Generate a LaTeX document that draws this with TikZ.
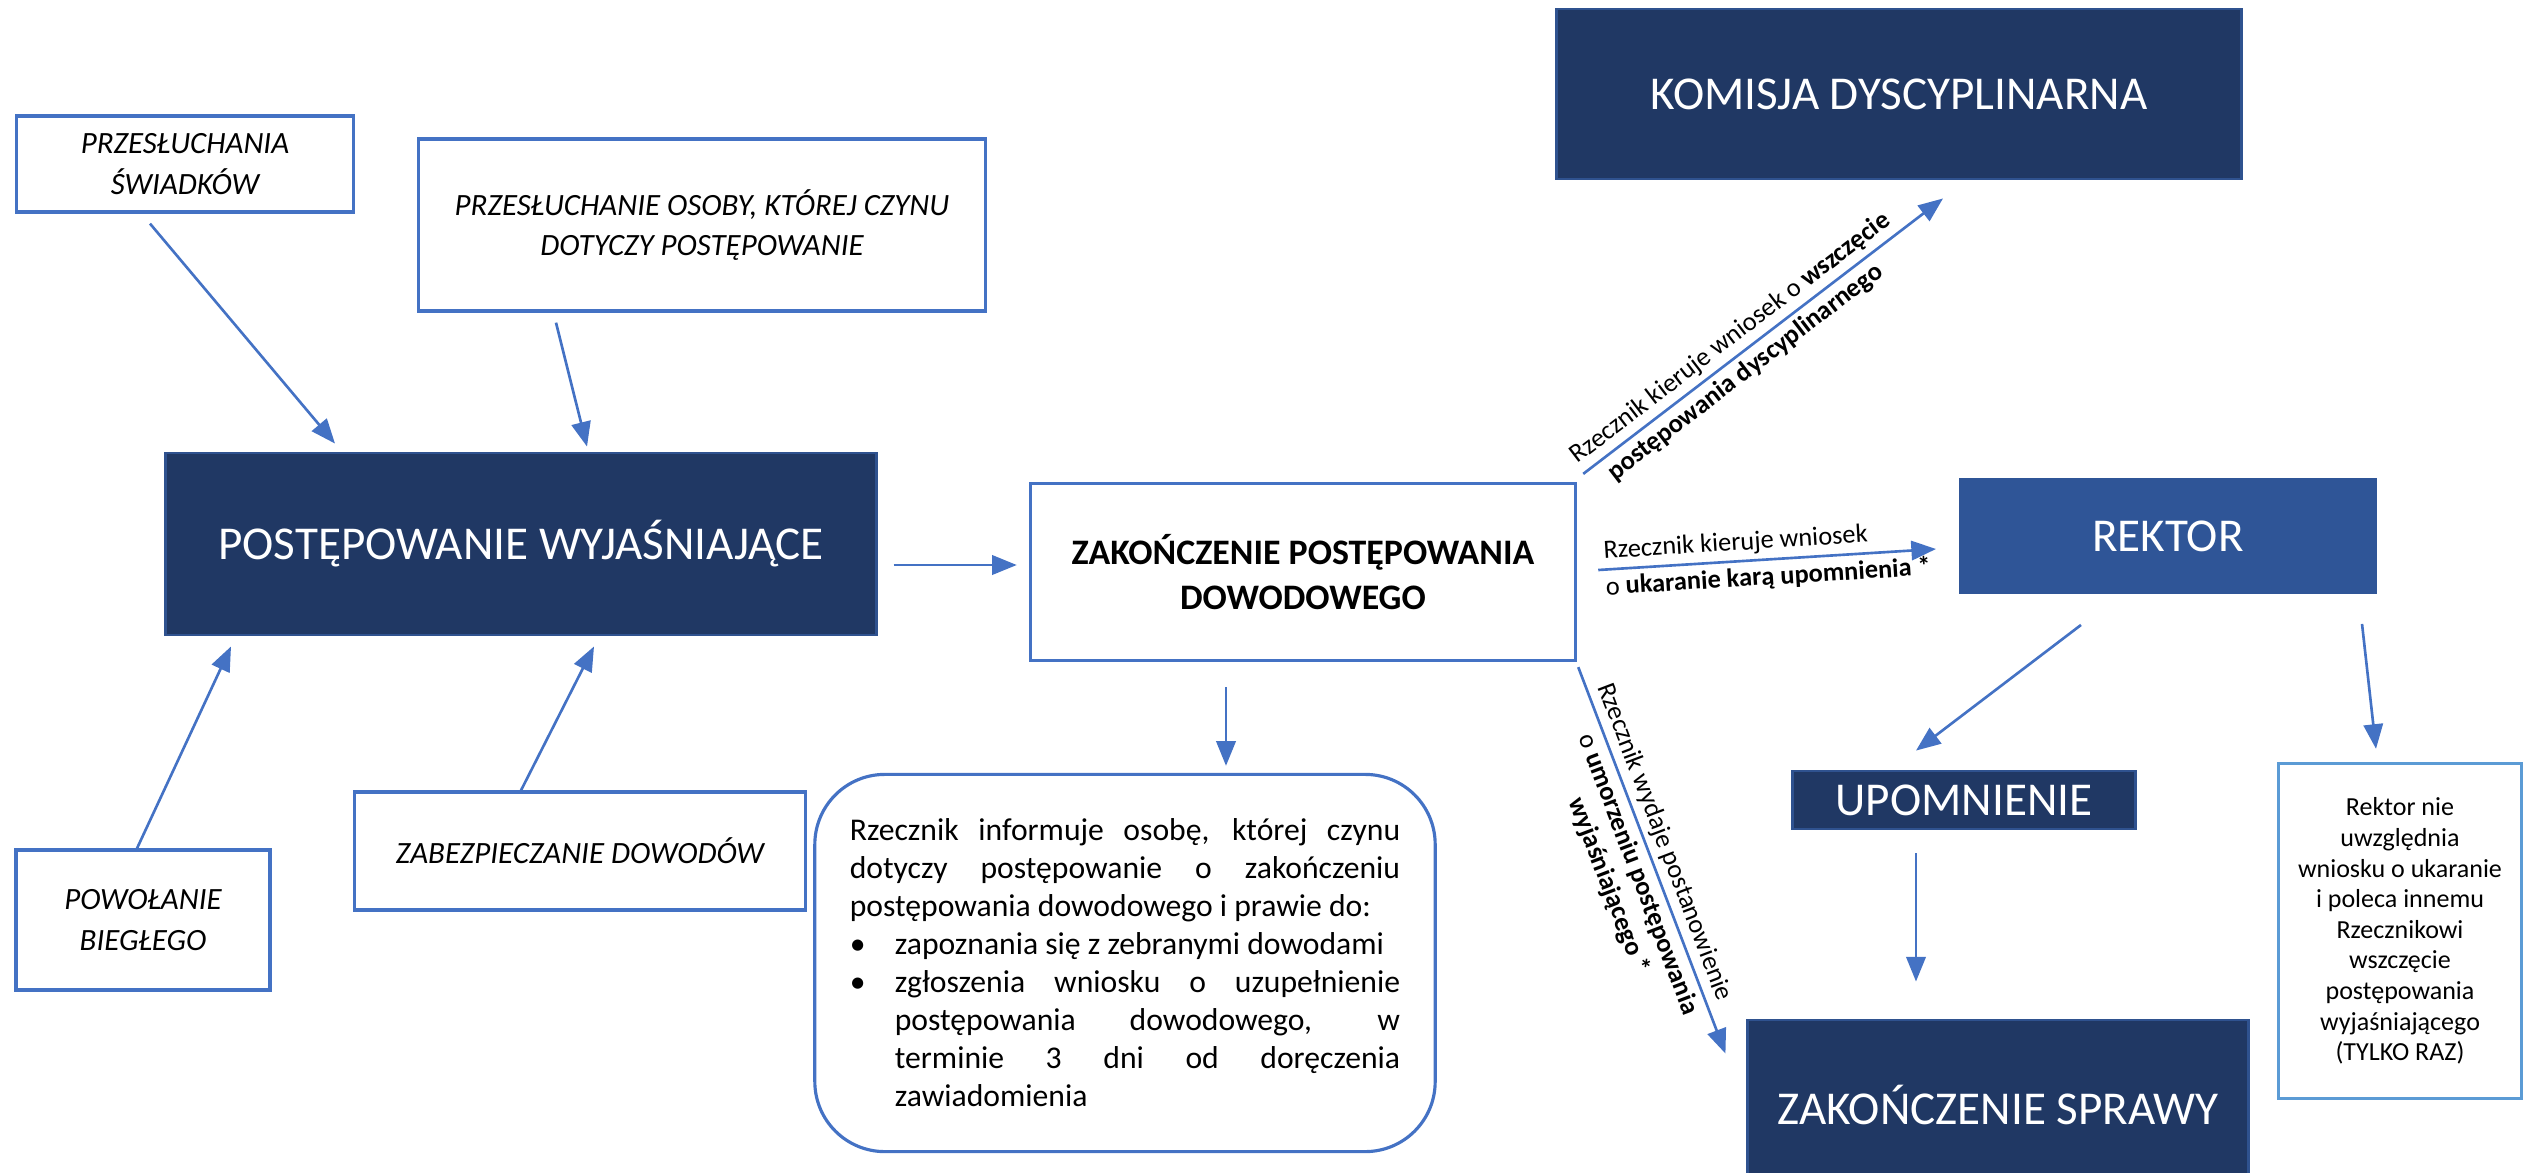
\documentclass[tikz,border=0pt]{standalone}
\usepackage{fontspec}
\setmainfont{Carlito}
\usetikzlibrary{arrows.meta, positioning}

\definecolor{granat}{HTML}{203864}
\definecolor{ramka}{HTML}{2F528F}
\definecolor{niebieski}{HTML}{2F5597}
\definecolor{akcent}{HTML}{4472C4}
\definecolor{jasny}{HTML}{5B9BD5}

\tikzset{
  ciemny/.style={draw=ramka, line width=0.8pt, fill=granat, text=white, inner sep=0pt,
    font=\fontsize{13.4}{16}\selectfont},
  jasnyprost/.style={draw=akcent, line width=0.9pt, align=center, inner sep=0pt},
  kursywa/.style={jasnyprost, font=\fontsize{8.8}{11.5}\selectfont\itshape},
  strz/.style={draw=akcent, line width=0.75pt, -{Triangle[length=7pt,width=5.5pt]}},
  opis/.style={font=\fontsize{7.5}{9}\selectfont, sloped, inner sep=1.5pt},
}

\begin{document}
\begin{tikzpicture}[x=0.01cm, y=-0.01cm]
      \useasboundingbox (0,0) rectangle (2529,1172);

      % czynności wokół postępowania wyjaśniającego
      \node[kursywa, minimum width=3.37cm, minimum height=0.96cm] (swiadkowie) at (185,164) {PRZESŁUCHANIA\\ŚWIADKÓW};
      \node[kursywa, minimum width=5.66cm, minimum height=1.72cm] (osoba) at (702,225) {PRZESŁUCHANIE OSOBY, KTÓREJ CZYNU\\DOTYCZY POSTĘPOWANIE};
      \node[ciemny, minimum width=7.10cm, minimum height=1.82cm] (wyjasn) at (521,544) {POSTĘPOWANIE WYJAŚNIAJĄCE};
      \node[kursywa, minimum width=2.54cm, minimum height=1.40cm] (biegly) at (143,920) {POWOŁANIE\\BIEGŁEGO};
      \node[kursywa, minimum width=4.50cm, minimum height=1.18cm] (dowody) at (580,851) {ZABEZPIECZANIE DOWODÓW};

      \node[jasnyprost, font=\fontsize{10.2}{12.8}\selectfont\bfseries, minimum width=5.45cm, minimum height=1.77cm] (dowodowe) at (1303,572) {ZAKOŃCZENIE POSTĘPOWANIA\\DOWODOWEGO};
      \node[draw=akcent, line width=0.9pt, rounded corners=0.7cm, minimum width=6.2cm, minimum height=3.77cm,
            text width=5.5cm, align=justify, font=\fontsize{9}{10.8}\selectfont] (info) at (1125,963)
        {\noindent Rzecznik informuje osobę, której czynu\linebreak dotyczy postępowanie o zakończeniu\linebreak postępowania dowodowego i prawie do:\par
         \noindent\hangindent=0.45cm\hangafter=1\makebox[0.45cm][l]{•}zapoznania się z zebranymi dowodami\par
         \noindent\hangindent=0.45cm\hangafter=1\makebox[0.45cm][l]{•}zgłoszenia wniosku o uzupełnienie\linebreak postępowania dowodowego, w\linebreak terminie 3 dni od doręczenia\linebreak zawiadomienia\par};

      % dalszy tok sprawy
      \node[ciemny, minimum width=6.84cm, minimum height=1.70cm] (komisja) at (1899,94) {KOMISJA DYSCYPLINARNA};
      \node[ciemny, fill=niebieski, draw=niebieski, minimum width=4.15cm, minimum height=1.13cm] (rektor) at (2168,536) {REKTOR};
      \node[ciemny, minimum width=3.43cm, minimum height=0.58cm] (upomnienie) at (1964,800) {UPOMNIENIE};
      \node[ciemny, minimum width=5.00cm, minimum height=1.70cm] (koniec) at (1998,1105) {ZAKOŃCZENIE SPRAWY};
      \node[draw=jasny, line width=0.9pt, align=center, minimum width=2.43cm, minimum height=3.35cm,
            font=\fontsize{7.4}{8.7}\selectfont] (rektornie) at (2400,931)
        {Rektor nie\\uwzględnia\\wniosku o ukaranie\\i poleca innemu\\Rzecznikowi\\wszczęcie\\postępowania\\wyjaśniającego\\(TYLKO RAZ)};

      \draw[strz] ([shift={(-35,10)}]swiadkowie.south) -- ([shift={(-186,-8)}]wyjasn.north);
      \draw[strz] ([shift={(-146,10)}]osoba.south) -- ([shift={(66,-5)}]wyjasn.north);
      \draw[strz] ([shift={(-6,0)}]biegly.north) -- ([shift={(-290,10)}]wyjasn.south);
      \draw[strz] ([shift={(-59,0)}]dowody.north) -- ([shift={(73,10)}]wyjasn.south);
      \draw[strz] ([shift={(16,21)}]wyjasn.east) -- ([shift={(-12,-7)}]dowodowe.west);
      \draw[strz] ([shift={(-77,25)}]dowodowe.south) -- ([shift={(101,-7)}]info.north);

      \draw[strz] ([shift={(6,-8)}]dowodowe.north east) -- ([shift={(44,18)}]komisja.south)
            node[opis, pos=0.44, above] {Rzecznik kieruje wniosek o \textbf{wszczęcie}}
            node[opis, pos=0.42, below] {\textbf{postępowania dyscyplinarnego}};
      \draw[strz] ([shift={(21,-2)}]dowodowe.east) -- ([shift={(-23,13)}]rektor.west)
            node[opis, pos=0, above right] {Rzecznik kieruje wniosek}
            node[opis, pos=0, below right] {o \textbf{ukaranie karą upomnienia *}};
      \draw[strz] ([shift={(1,5)}]dowodowe.south east) -- ([shift={(-21,35)}]koniec.north west)
            node[opis, pos=0.47, above] {Rzecznik wydaje postanowienie}
            node[opis, pos=0.52, below, align=center] {o \textbf{umorzeniu postępowania}\\\textbf{wyjaśniającego *}};

      \draw[strz] ([shift={(-87,31)}]rektor.south) -- ([shift={(-48,-19)}]upomnienie.north);
      \draw[strz] ([shift={(-15,30)}]rektor.south east) -- ([shift={(-24,-13)}]rektornie.north);
      \draw[strz] ([shift={(-48,23)}]upomnienie.south) -- ([shift={(-82,-37)}]koniec.north);
\end{tikzpicture}
\end{document}
